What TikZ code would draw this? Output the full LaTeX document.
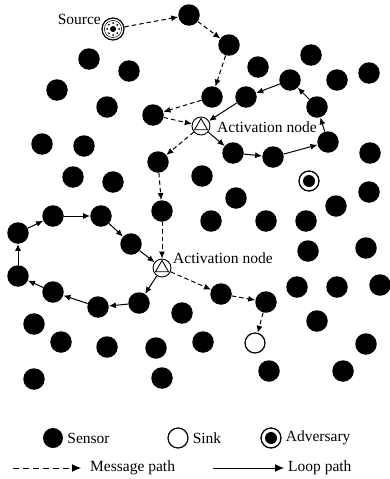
\documentclass[tikz,border=0pt]{standalone}
\usepackage{fontspec}
\setmainfont{Liberation Serif}
\usetikzlibrary{arrows.meta,positioning}

\begin{document}
\begin{tikzpicture}[x=1pt,y=-1pt,
  sensor/.style={circle,fill=black,minimum size=21.5pt,inner sep=0pt},
  sink/.style={circle,draw,line width=1.2pt,fill=white,minimum size=20pt,inner sep=0pt},
  adversary/.style={circle,draw,line width=1.3pt,minimum size=20pt,inner sep=0pt,
    path picture={\fill (path picture bounding box.center) circle (6pt);}},
  activation/.style={circle,draw,line width=0.9pt,minimum size=18pt,inner sep=0pt,
    path picture={\draw [line width=0.9pt] ([shift={(90:7.5pt)}]path picture bounding box.center)
      -- ([shift={(210:7.5pt)}]path picture bounding box.center)
      -- ([shift={(330:7.5pt)}]path picture bounding box.center) -- cycle;}},
  source/.style={circle,draw,line width=1.2pt,minimum size=22pt,inner sep=0pt,
    path picture={\draw [line width=0.5pt] (path picture bounding box.center) circle (8.6pt);
      \fill (path picture bounding box.center) circle (3pt);
      \foreach \a in {0,45,...,315} \fill ([shift={(\a:6pt)}]path picture bounding box.center) circle (1pt);}},
  txt/.style={font=\fontsize{15.5}{18}\selectfont,inner sep=0pt},
  messagepath/.style={line width=1pt,dash pattern=on 4.5pt off 3pt,-{Latex[length=7pt,width=6pt]}},
  looppath/.style={line width=1pt,-{Latex[length=7pt,width=6pt]}}]
\useasboundingbox (0,0) rectangle (390,479);
\node [source] (src) at (113,29) {};
\node [txt,anchor=east] (srctext) at (101,19) {Source};
\node [sensor] (n1) at (189,15) {};
\node [sensor] (n2) at (229,45) {};
\node [sensor] (n3) at (89,59) {};
\node [sensor] (n4) at (129,71) {};
\node [sensor] (n5) at (57,90) {};
\node [sensor] (n6) at (107,107) {};
\node [sensor] (n7) at (153,115) {};
\node [sensor] (n8) at (212,97) {};
\node [sensor] (n9) at (246,97) {};
\node [sensor] (n10) at (258,67) {};
\node [sensor] (n11) at (311,55) {};
\node [sensor] (n12) at (290,80) {};
\node [sensor] (n13) at (337,80) {};
\node [sensor] (n14) at (369,73) {};
\node [sensor] (n15) at (317,107) {};
\node [sensor] (n16) at (42,144) {};
\node [sensor] (n17) at (84,146) {};
\node [sensor] (n18) at (158,162) {};
\node [sensor] (n19) at (233,153) {};
\node [sensor] (n20) at (273,157) {};
\node [sensor] (n21) at (328,142) {};
\node [sensor] (n22) at (370,153) {};
\node [sensor] (n23) at (73,177) {};
\node [sensor] (n24) at (113,182) {};
\node [sensor] (n25) at (202,176) {};
\node [sensor] (n26) at (369,192) {};
\node [sensor] (n27) at (236,198) {};
\node [sensor] (n28) at (336,206) {};
\node [sensor] (n29) at (162,211) {};
\node [sensor] (n30) at (53,216) {};
\node [sensor] (n31) at (101,216) {};
\node [sensor] (n32) at (18,233) {};
\node [sensor] (n33) at (131,244) {};
\node [sensor] (n34) at (211,221) {};
\node [sensor] (n35) at (266,221) {};
\node [sensor] (n36) at (306,221) {};
\node [sensor] (n37) at (308,251) {};
\node [sensor] (n38) at (366,248) {};
\node [sensor] (n39) at (18,276) {};
\node [sensor] (n40) at (53,292) {};
\node [sensor] (n41) at (98,307) {};
\node [sensor] (n42) at (139,303) {};
\node [sensor] (n43) at (221,294) {};
\node [sensor] (n44) at (266,302) {};
\node [sensor] (n45) at (297,287) {};
\node [sensor] (n46) at (337,287) {};
\node [sensor] (n47) at (380,285) {};
\node [sensor] (n48) at (182,313) {};
\node [sensor] (n49) at (34,324) {};
\node [sensor] (n50) at (317,321) {};
\node [sensor] (n51) at (61,342) {};
\node [sensor] (n52) at (107,347) {};
\node [sensor] (n53) at (156,348) {};
\node [sensor] (n54) at (203,342) {};
\node [sensor] (n55) at (366,344) {};
\node [sensor] (n56) at (34,379) {};
\node [sensor] (n57) at (162,378) {};
\node [sensor] (n58) at (269,371) {};
\node [sensor] (n59) at (343,371) {};
\node [adversary] (adv) at (309,181) {};
\node [sink] (snk) at (255,343) {};
\node [activation] (act1) at (201,126) {};
\node [txt,anchor=west] (act1text) at (217,127) {Activation node};
\node [activation] (act2) at (162,268) {};
\node [txt,anchor=west] (act2text) at (173,258) {Activation node};
\draw [messagepath] (src) -- (n1);
\draw [messagepath] (n1) -- (n2);
\draw [messagepath] (n2) -- (n8);
\draw [messagepath] (n8) -- (n7);
\draw [messagepath] (n7) -- (act1);
\draw [messagepath] (act1) -- (n18);
\draw [messagepath] (n18) -- (n29);
\draw [messagepath] (n29) -- (act2);
\draw [messagepath] (act2) -- (n43);
\draw [messagepath] (n43) -- (n44);
\draw [messagepath] (n44) -- (snk);
\draw [looppath] (act1) -- (n19);
\draw [looppath] (n19) -- (n20);
\draw [looppath] (n20) -- (n21);
\draw [looppath] (n21) -- (n15);
\draw [looppath] (n15) -- (n12);
\draw [looppath] (n12) -- (n9);
\draw [looppath] (n9) -- (act1);
\draw [looppath] (act2) -- (n42);
\draw [looppath] (n42) -- (n41);
\draw [looppath] (n41) -- (n40);
\draw [looppath] (n40) -- (n39);
\draw [looppath] (n39) -- (n32);
\draw [looppath] (n32) -- (n30);
\draw [looppath] (n30) -- (n31);
\draw [looppath] (n31) -- (n33);
\draw [looppath] (n33) -- (act2);
\node [sensor,minimum size=20pt] (lsensor) at (53,438) {};
\node [txt,right=4pt of lsensor] (tsensor) {Sensor};
\node [sink] (lsink) at (178,438) {};
\node [txt,right=4pt of lsink] (tsink) {Sink};
\node [adversary] (ladv) at (271,438) {};
\node [txt,right=4pt of ladv] (tadv) {Adversary};
\coordinate (lm1) at (13,468);
\coordinate (lm2) at (81,468);
\draw [messagepath,dash pattern=on 6pt off 4pt,-{Latex[length=9pt,width=8pt]}] (lm1) -- (lm2);
\node [txt,right=9pt of lm2] (tmessage) {Message path};
\coordinate (ll1) at (213,468);
\coordinate (ll2) at (284,468);
\draw [looppath,-{Latex[length=9pt,width=8pt]}] (ll1) -- (ll2);
\node [txt,right=4pt of ll2] (tloop) {Loop path};
\end{tikzpicture}
\end{document}
